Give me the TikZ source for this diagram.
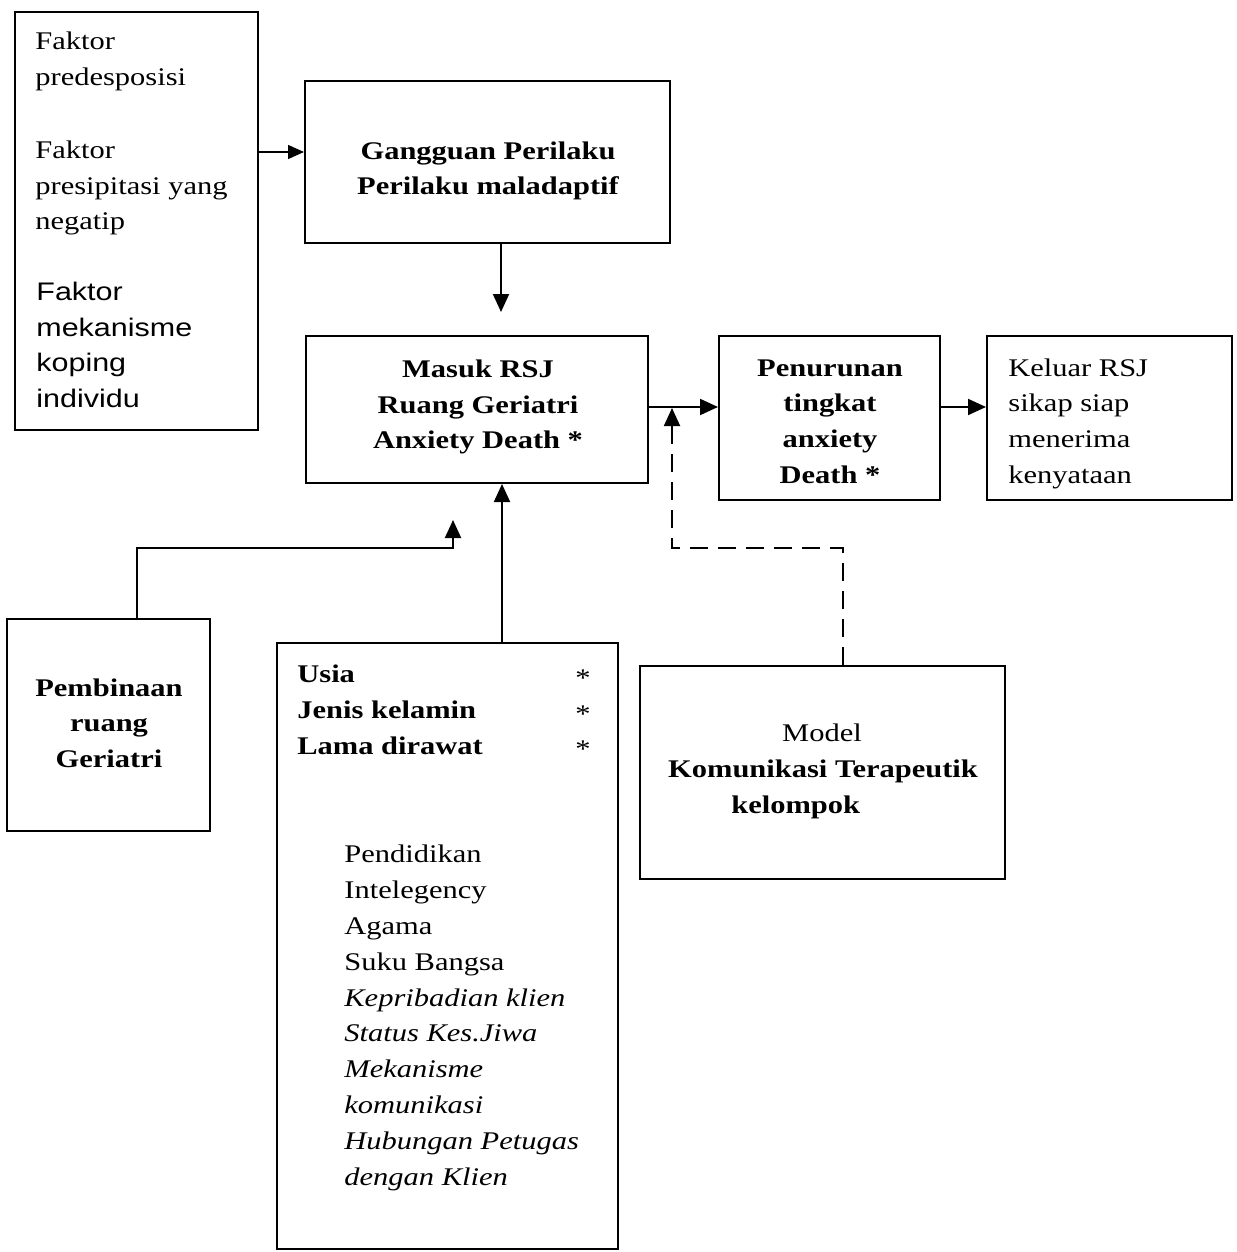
\documentclass[tikz,border=0pt]{standalone}
\usepackage{fontspec}
\setmainfont{Liberation Serif}[FakeStretch=1.2]
\newfontfamily\arialf{Liberation Sans}[FakeStretch=1.2]
\usetikzlibrary{arrows.meta,fit}
\begin{document}
\begin{tikzpicture}[x=0.5pt,y=-0.5pt,
  box/.style={draw,line width=1pt,inner sep=0pt,rectangle},
  lt/.style={anchor=base west,inner sep=0pt,font=\fontsize{12.7}{18}\selectfont},
  ct/.style={anchor=base,inner sep=0pt,font=\fontsize{12.7}{18}\selectfont},
  arr/.style={line width=1pt,-{Triangle[length=9pt,width=8pt]}},
  arrthin/.style={line width=0.7pt,-{Triangle[length=8pt,width=7pt]}},
  dsh/.style={line width=0.9pt,dash pattern=on 9pt off 5pt,-{Triangle[length=9pt,width=8pt]}}]
\useasboundingbox[fill=white] (0,0) rectangle (1236,1252);
% boxes
\node[box,fit={(15,12) (258,430)}] (A) {};
\node[box,fit={(305,81) (670,243)}] (B) {};
\node[box,fit={(306,336) (648,483)}] (C) {};
\node[box,fit={(719,336) (940,500)}] (D) {};
\node[box,fit={(987,336) (1232,500)}] (E) {};
\node[box,fit={(7,619) (210,831)}] (F) {};
\node[box,fit={(277,643) (618,1249)}] (G) {};
\node[box,fit={(640,666) (1005,879)}] (H) {};
% box A text
\node[lt] (a1) at (35,50) {Faktor};
\node[lt] (a2) at (35,86) {predesposisi};
\node[lt] (a3) at (35,158) {Faktor};
\node[lt] (a4) at (35,194) {presipitasi yang};
\node[lt] (a5) at (35,229) {negatip};
\node[lt,font=\fontsize{12.7}{18}\arialf] (a6) at (36,300) {Faktor};
\node[lt,font=\fontsize{12.7}{18}\arialf] (a7) at (36,336) {mekanisme};
\node[lt,font=\fontsize{12.7}{18}\arialf] (a8) at (36,371) {koping};
\node[lt,font=\fontsize{12.7}{18}\arialf] (a9) at (36,407) {individu};
% box B text
\node[ct,font=\fontsize{12.7}{18}\selectfont\bfseries] (b1) at (488,159) {Gangguan Perilaku};
\node[ct,font=\fontsize{12.7}{18}\selectfont\bfseries] (b2) at (488,194) {Perilaku maladaptif};
% box C text
\node[ct,font=\fontsize{12.7}{18}\selectfont\bfseries] (c1) at (478,377) {Masuk RSJ};
\node[ct,font=\fontsize{12.7}{18}\selectfont\bfseries] (c2) at (478,413) {Ruang Geriatri};
\node[ct,font=\fontsize{12.7}{18}\selectfont\bfseries] (c3) at (478,448) {Anxiety Death *};
% box D text
\node[ct,font=\fontsize{12.7}{18}\selectfont\bfseries] (d1) at (830,376) {Penurunan};
\node[ct,font=\fontsize{12.7}{18}\selectfont\bfseries] (d2) at (830,411) {tingkat};
\node[ct,font=\fontsize{12.7}{18}\selectfont\bfseries] (d3) at (830,447) {anxiety};
\node[ct,font=\fontsize{12.7}{18}\selectfont\bfseries] (d4) at (830,483) {Death *};
% box E text
\node[lt] (e1) at (1008,376) {Keluar RSJ};
\node[lt] (e2) at (1008,411) {sikap siap};
\node[lt] (e3) at (1008,447) {menerima};
\node[lt] (e4) at (1008,483) {kenyataan};
% box F text
\node[ct,font=\fontsize{12.7}{18}\selectfont\bfseries] (f1) at (109,696) {Pembinaan};
\node[ct,font=\fontsize{12.7}{18}\selectfont\bfseries] (f2) at (109,731) {ruang};
\node[ct,font=\fontsize{12.7}{18}\selectfont\bfseries] (f3) at (109,767) {Geriatri};
% box G text
\node[lt,font=\fontsize{12.7}{18}\selectfont\bfseries] (g1) at (297,682) {Usia};
\node[lt,font=\fontsize{12.7}{18}\selectfont\bfseries] (g2) at (297,718) {Jenis kelamin};
\node[lt,font=\fontsize{12.7}{18}\selectfont\bfseries] (g3) at (297,754) {Lama dirawat};
\node[ct] (s1) at (583,686) {*};
\node[ct] (s2) at (583,722) {*};
\node[ct] (s3) at (583,757) {*};
\node[lt] (g4) at (344,862) {Pendidikan};
\node[lt] (g5) at (344,898) {Intelegency};
\node[lt] (g6) at (344,934) {Agama};
\node[lt] (g7) at (344,970) {Suku Bangsa};
\node[lt,font=\fontsize{12.7}{18}\selectfont\itshape] (g8) at (344,1006) {Kepribadian klien};
\node[lt,font=\fontsize{12.7}{18}\selectfont\itshape] (g9) at (344,1041) {Status Kes.Jiwa};
\node[lt,font=\fontsize{12.7}{18}\selectfont\itshape] (g10) at (344,1077) {Mekanisme};
\node[lt,font=\fontsize{12.7}{18}\selectfont\itshape] (g11) at (344,1113) {komunikasi};
\node[lt,font=\fontsize{12.7}{18}\selectfont\itshape] (g12) at (344,1149) {Hubungan Petugas};
\node[lt,font=\fontsize{12.7}{18}\selectfont\itshape] (g13) at (344,1185) {dengan Klien};
% box H text
\node[ct] (h1) at (822,741) {Model};
\node[ct,font=\fontsize{12.7}{18}\selectfont\bfseries] (h2) at (823,777) {Komunikasi Terapeutik};
\node[lt,font=\fontsize{12.7}{18}\selectfont\bfseries] (h3) at (731,813) {kelompok};
% connector coordinates
\coordinate (ab) at (0,152);
\coordinate (bc) at (501,0);
\coordinate (bctip) at (501,312);
\coordinate (cd) at (0,407);
\coordinate (fb) at (137,548);
\coordinate (fc) at (453,548);
\coordinate (ftip) at (453,520);
\coordinate (gx) at (502,0);
\coordinate (hb) at (843,548);
\coordinate (hc) at (672,548);
\coordinate (htip) at (672,408);
% connectors
\draw[arrthin] (A.east |- ab) -- (B.west |- ab);
\draw[arr] (B.south -| bc) -- (bctip);
\draw[arr] (C.east |- cd) -- (D.west |- cd);
\draw[arr] (D.east |- cd) -- (E.west |- cd);
\draw[arr] (F.north -| fb) -- (fb) -- (fc) -- (ftip);
\draw[arr] (G.north -| gx) -- (C.south -| gx);
\draw[dsh] (H.north -| hb) -- (hb) -- (hc) -- (htip);
\end{tikzpicture}
\end{document}
